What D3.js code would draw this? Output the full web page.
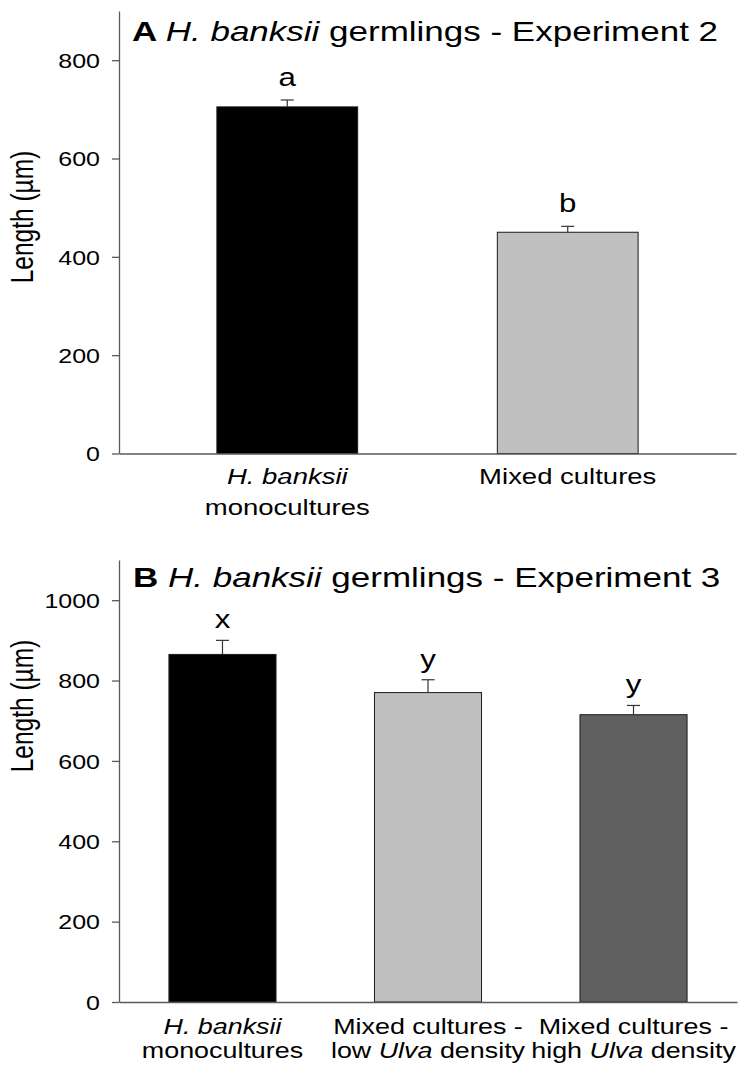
<!DOCTYPE html>
<html>
<head>
<meta charset="utf-8">
<script src="https://cdn.jsdelivr.net/npm/d3@7"></script>
<style>
  html, body { margin: 0; padding: 0; background: #fff; }
  svg { display: block; }
  text { font-family: "Liberation Sans", Arial, sans-serif; fill: #000; }
</style>
</head>
<body>
<svg id="chart" width="742" height="1068"></svg>
<script>
// Panel A: germling length, experiment 2
const catsA = ["*H. banksii*|monocultures", "Mixed cultures"];
const meanA = [705, 450];
const seA = [14, 12];
const lettersA = ["a", "b"];
const fillA = ["#000000", "#c0c0c0"];
const ticksA = [0, 200, 400, 600, 800];

// Panel B: germling length, experiment 3
const catsB = ["*H. banksii*|monocultures", "Mixed cultures -|low *Ulva* density", "Mixed cultures -|high *Ulva* density"];
const meanB = [865, 770, 715];
const seB = [35, 32, 23];
const lettersB = ["x", "y", "y"];
const fillB = ["#000000", "#c0c0c0", "#606060"];
const ticksB = [0, 200, 400, 600, 800, 1000];

const SX = 1.25;          // horizontal text stretch
const AXIS = "#5a5a5a";

const svg = d3.select("#chart");

// Append text with "*italic*" spans, stretched horizontally around its anchor.
function richText(g, str, x, y, size, anchor) {
  const t = g.append("text")
    .attr("transform", `translate(${x},${y}) scale(${SX},1)`)
    .attr("text-anchor", anchor)
    .style("font-size", size + "px");
  str.split("*").forEach((part, i) => {
    if (!part) return;
    const s = t.append("tspan").text(part);
    if (i % 2 === 1) s.style("font-style", "italic");
  });
  return t;
}

function panel(opts) {
  const g = svg.append("g");
  const x = d3.scaleBand()
    .domain(opts.cats)
    .range([opts.left, opts.right])
    .paddingInner(opts.pi)
    .paddingOuter(opts.po);
  const y = d3.scaleLinear()
    .domain([0, opts.ymax])
    .range([opts.bottom, opts.top]);

  // bars
  g.selectAll("rect.bar")
    .data(opts.means)
    .join("rect")
    .attr("class", "bar")
    .attr("x", (d, i) => x(opts.cats[i]))
    .attr("width", x.bandwidth())
    .attr("y", d => y(d))
    .attr("height", d => y(0) - y(d))
    .attr("fill", (d, i) => opts.fills[i])
    .attr("stroke", "#1a1a1a")
    .attr("stroke-width", 1);

  // upper error bars with significance letters
  const capW = 13;
  opts.means.forEach((m, i) => {
    const cx = x(opts.cats[i]) + x.bandwidth() / 2;
    const top = y(m + opts.se[i]);
    g.append("line")
      .attr("x1", cx).attr("x2", cx)
      .attr("y1", y(m)).attr("y2", top)
      .attr("stroke", "#333").attr("stroke-width", 1.2);
    g.append("line")
      .attr("x1", cx - capW / 2).attr("x2", cx + capW / 2)
      .attr("y1", top).attr("y2", top)
      .attr("stroke", "#333").attr("stroke-width", 1.2);
    richText(g, opts.letters[i], cx, top - opts.letterGap, 25, "middle");
  });

  // y axis
  const ya = g.append("g")
    .attr("transform", `translate(${opts.left},0)`)
    .call(d3.axisLeft(y).tickValues(opts.ticks).tickFormat(d3.format("d"))
      .tickSize(7).tickSizeOuter(0));
  ya.select(".domain").attr("stroke", AXIS).attr("stroke-width", 1.3);
  ya.selectAll(".tick line").attr("stroke", AXIS).attr("stroke-width", 1.3);
  ya.selectAll(".tick text")
    .attr("x", -19 / SX)
    .attr("dy", "0.36em")
    .attr("transform", `scale(${SX},1)`)
    .style("font-size", "20px")
    .style("font-family", "'Liberation Sans', Arial, sans-serif")
    .attr("fill", "#000");

  // x axis
  const xa = g.append("g")
    .attr("transform", `translate(0,${opts.bottom})`)
    .call(d3.axisBottom(x).tickSize(0).tickSizeOuter(0).tickFormat(""));
  xa.select(".domain").attr("stroke", AXIS).attr("stroke-width", 1.3);

  // category labels
  opts.cats.forEach(c => {
    const cx = x(c) + x.bandwidth() / 2;
    c.split("|").forEach((line, k) => {
      richText(g, line, cx, opts.bottom + opts.catY[k], opts.catSize, "middle");
    });
  });

  // y axis title
  g.append("text")
    .attr("transform", `translate(${opts.ylabX},${opts.ylabY}) rotate(-90) scale(1,${SX})`)
    .attr("text-anchor", "middle")
    .style("font-size", "24.5px")
    .text("Length (µm)");

  // panel title
  const t = g.append("text")
    .attr("transform", `translate(${opts.titleX},${opts.titleY}) scale(${SX},1)`)
    .style("font-size", "28px");
  t.append("tspan").style("font-weight", "bold").text(opts.panelLetter + " ");
  t.append("tspan").style("font-style", "italic").text("H. banksii");
  t.append("tspan").text(" germlings - " + opts.exp);
}

panel({
  cats: catsA, means: meanA, se: seA, letters: lettersA, fills: fillA, ticks: ticksA,
  left: 119, right: 736, top: 11, bottom: 453.5, ymax: 900,
  pi: 0.498, po: 0.349, letterGap: 14,
  catY: [30.5, 61.5], catSize: 22,
  ylabX: 33, ylabY: 217,
  titleX: 132, titleY: 40.5, panelLetter: "A", exp: "Experiment 2"
});

panel({
  cats: catsB, means: meanB, se: seB, letters: lettersB, fills: fillB, ticks: ticksB,
  left: 119, right: 737, top: 560, bottom: 1002, ymax: 1100,
  pi: 0.479, po: 0.243, letterGap: 12,
  catY: [32, 56], catSize: 21.5,
  ylabX: 33, ylabY: 706,
  titleX: 133, titleY: 587, panelLetter: "B", exp: "Experiment 3"
});
</script>
</body>
</html>
